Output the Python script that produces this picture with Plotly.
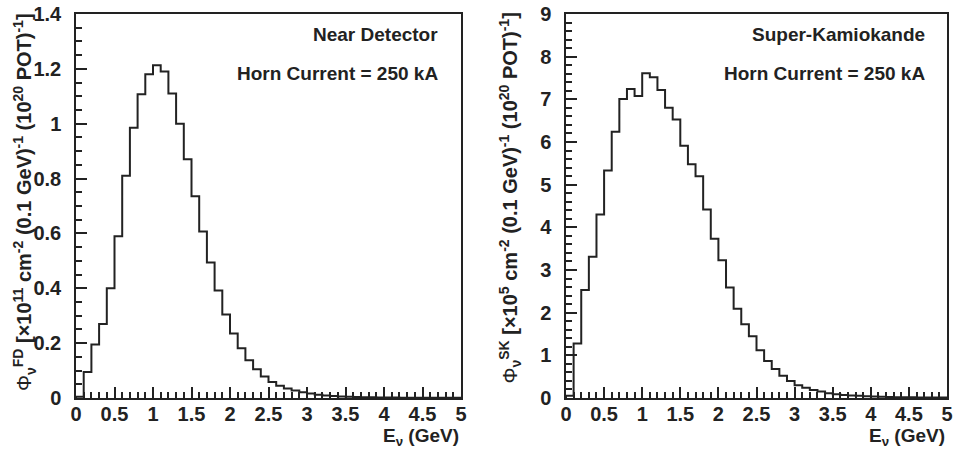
import plotly.graph_objects as go

# Bin edges shared by both histograms (0.1 GeV bins from 0 to 5 GeV)
bin_edges = [round(0.1 * i, 1) for i in range(51)]

# Near detector flux per 0.1 GeV bin  [x1e11 cm^-2 (0.1 GeV)^-1 (1e20 POT)^-1]
nd_flux = [0.005, 0.095, 0.195, 0.27, 0.40, 0.59, 0.81, 0.985, 1.107, 1.18,
           1.213, 1.19, 1.11, 1.00, 0.87, 0.736, 0.607, 0.494, 0.392, 0.304,
           0.235, 0.181, 0.138, 0.105, 0.078, 0.058, 0.045, 0.035, 0.027, 0.021,
           0.016, 0.012, 0.009, 0.007, 0.0055, 0.0045, 0.0037, 0.003, 0.0025, 0.002,
           0.0017, 0.0015, 0.0013, 0.0011, 0.001, 0.0009, 0.0008, 0.0007, 0.0006, 0.0005]

# Super-Kamiokande flux per 0.1 GeV bin  [x1e5 cm^-2 (0.1 GeV)^-1 (1e20 POT)^-1]
sk_flux = [0.05, 1.28, 2.53, 3.31, 4.30, 5.33, 6.24, 7.01, 7.24, 7.08,
           7.61, 7.52, 7.22, 6.80, 6.53, 5.91, 5.48, 5.20, 4.42, 3.73,
           3.23, 2.59, 2.09, 1.73, 1.45, 1.12, 0.87, 0.68, 0.52, 0.40,
           0.30, 0.24, 0.19, 0.15, 0.11, 0.09, 0.07, 0.06, 0.05, 0.04,
           0.035, 0.03, 0.025, 0.02, 0.018, 0.015, 0.013, 0.011, 0.01, 0.009]

panel_titles = ["Near Detector", "Super-Kamiokande"]
horn_label = "Horn Current = 250 kA"
x_title = "E<sub>ν</sub> (GeV)"
y_titles = [
    "<span style='font-weight:normal'>Φ</span><sub>ν</sub><sup>FD</sup> [×10<sup>11</sup> cm<sup>-2</sup> (0.1 GeV)<sup>-1</sup> (10<sup>20</sup> POT)<sup>-1</sup>]",
    "<span style='font-weight:normal'>Φ</span><sub>ν</sub><sup>SK</sup> [×10<sup>5</sup> cm<sup>-2</sup> (0.1 GeV)<sup>-1</sup> (10<sup>20</sup> POT)<sup>-1</sup>]",
]

W, H = 954, 450
INK = "#222222"
FONT = "Liberation Sans"


def step_xy(edges, vals):
    xs = [edges[0]] + list(edges)
    ys = [0] + list(vals) + [vals[-1]]
    return xs, ys


def px_x(p):
    return p / W


def px_y(p):
    # pixel row measured from the top -> paper fraction
    return (H - p) / H


fig = go.Figure()

x_domains = [[px_x(76), px_x(461)], [px_x(566), px_x(947)]]
y_domain = [px_y(398), px_y(14)]
y_ranges = [[0, 1.4], [0, 9]]
y_dticks = [0.2, 1]
y_minor = [0.05, 0.2]

for i, vals in enumerate([nd_flux, sk_flux]):
    xs, ys = step_xy(bin_edges, vals)
    sfx = "" if i == 0 else "2"
    fig.add_trace(go.Scatter(
        x=xs, y=ys, mode="lines", line=dict(shape="hv", color=INK, width=2),
        xaxis="x" + sfx, yaxis="y" + sfx, showlegend=False, hoverinfo="skip",
    ))

axis_common = dict(
    showgrid=False, zeroline=False, showline=True, linecolor=INK, linewidth=1.5,
    mirror=True, ticks="inside", tickcolor=INK, tickwidth=1.5,
    automargin=False, ticklabeloverflow="allow",
    tickfont=dict(family=FONT, size=20, color=INK, weight="bold"),
)

layout = dict(
    width=W, height=H, margin=dict(l=0, r=0, t=0, b=0, autoexpand=False),
    plot_bgcolor="white", paper_bgcolor="white",
    font=dict(family=FONT, color=INK),
)

for i in range(2):
    sfx = "" if i == 0 else "2"
    layout["xaxis" + sfx] = dict(
        axis_common, domain=x_domains[i], range=[0, 5], dtick=0.5, ticklen=11,
        anchor="y" + sfx, ticklabelstandoff=-3,
        minor=dict(dtick=0.1, ticks="inside", ticklen=6, tickcolor=INK, tickwidth=1.5),
    )
    layout["yaxis" + sfx] = dict(
        axis_common, domain=y_domain, range=y_ranges[i], dtick=y_dticks[i], ticklen=11,
        anchor="x" + sfx, ticklabelstandoff=9,
        minor=dict(dtick=y_minor[i], ticks="inside", ticklen=6, tickcolor=INK, tickwidth=1.5),
    )

fig.update_layout(**layout)

ann_font = dict(family=FONT, size=19, color=INK, weight="bold")
ytitle_font = dict(family=FONT, size=20, color=INK, weight="bold")
title_x_right = [px_x(440), px_x(927)]
ytitle_x = [px_x(24), px_x(510)]
for i in range(2):
    fig.add_annotation(x=title_x_right[i], y=px_y(34), xref="paper", yref="paper",
                       text=panel_titles[i], showarrow=False, xanchor="right",
                       yanchor="middle", font=ann_font)
    fig.add_annotation(x=title_x_right[i], y=px_y(73), xref="paper", yref="paper",
                       text=horn_label, showarrow=False, xanchor="right",
                       yanchor="middle", font=ann_font)
    fig.add_annotation(x=x_domains[i][1], y=px_y(437), xref="paper", yref="paper",
                       text=x_title, showarrow=False, xanchor="right",
                       yanchor="middle", font=ann_font)
    fig.add_annotation(x=ytitle_x[i], y=px_y(11), xref="paper", yref="paper",
                       text=y_titles[i], showarrow=False, textangle=-90,
                       xanchor="center", yanchor="top", font=ytitle_font)

# Let the figure fill the page edge to edge
fig.write_html("out.html", post_script="document.body.style.margin = '0px';")
